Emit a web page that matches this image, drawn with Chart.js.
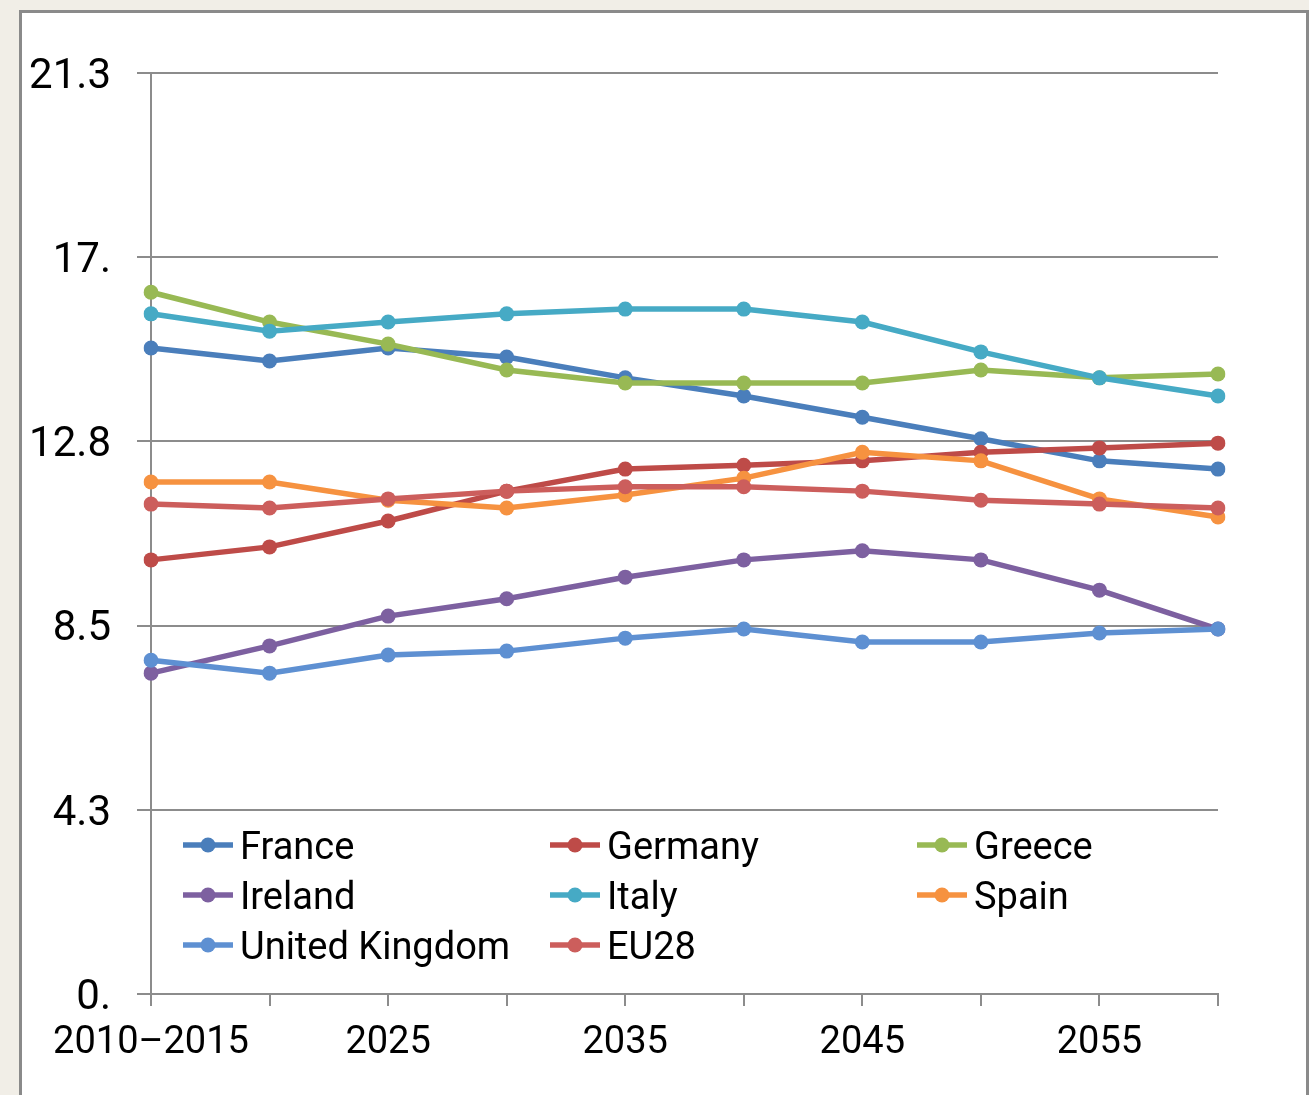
<!DOCTYPE html>
<html>
<head>
<meta charset="utf-8">
<script src="https://cdn.jsdelivr.net/npm/chart.js@4.4.1/dist/chart.umd.min.js"></script>
<style>
  html, body { margin: 0; padding: 0; }
  body {
    width: 1309px; height: 1095px; overflow: hidden; position: relative;
    background: #f1eee7;
  }
  #frame {
    position: absolute; left: 19px; top: 10px; width: 1284px; height: 1100px;
    background: #fff; border: 3px solid #8a8a8a;
  }
  #wrap { position: absolute; left: 0; top: 0; width: 1309px; height: 1095px; }
</style>
</head>
<body>
<div id="frame"></div>
<div id="wrap"><canvas id="my-chart"></canvas></div>
<script>
const years = ["2010–2015", "2020", "2025", "2030", "2035", "2040", "2045", "2050", "2055", "2060"];

const france  = [14.94, 14.64, 14.94, 14.73, 14.25, 13.83, 13.34, 12.84, 12.33, 12.14];
const germany = [10.04, 10.34, 10.94, 11.63, 12.14, 12.23, 12.33, 12.53, 12.63, 12.74];
const greece  = [16.23, 15.54, 15.03, 14.43, 14.13, 14.13, 14.13, 14.43, 14.25, 14.34];
const ireland = [7.42, 8.05, 8.74, 9.14, 9.64, 10.04, 10.25, 10.04, 9.34, 8.44];
const italy   = [15.73, 15.33, 15.54, 15.73, 15.84, 15.84, 15.54, 14.85, 14.25, 13.83];
const spain   = [11.84, 11.84, 11.42, 11.24, 11.54, 11.93, 12.53, 12.33, 11.45, 11.03];
const uk      = [7.72, 7.42, 7.84, 7.93, 8.23, 8.44, 8.14, 8.14, 8.35, 8.44];
const eu28    = [11.33, 11.24, 11.45, 11.63, 11.73, 11.73, 11.63, 11.42, 11.33, 11.24];

const yTickValues = [0, 4.26, 8.52, 12.78, 17.04, 21.3];
const yTickLabels = ["0.", "4.3", "8.5", "12.8", "17.", "21.3"];

const seriesNames = ["France", "Germany", "Greece", "Ireland", "Italy", "Spain", "United Kingdom", "EU28"];
const seriesData = [france, germany, greece, ireland, italy, spain, uk, eu28];
const seriesColors = ["#4a7ebb", "#be4b48", "#98b954", "#7d60a0", "#46aac5", "#f69240", "#5e90d2", "#cc5e5c"];

const FONT = 'Roboto, "Noto Sans", sans-serif';

const datasets = seriesNames.map(function (name, i) {
  return {
    label: name,
    data: seriesData[i],
    borderColor: seriesColors[i],
    backgroundColor: seriesColors[i],
    borderWidth: 5.5,
    pointRadius: 7.5,
    pointHoverRadius: 7.5,
    pointBorderWidth: 0,
    tension: 0,
    order: seriesNames.length - 1 - i, // later series on top, like Excel
  };
});

// legend drawn inside the plot area, 3 columns
const insideLegend = {
  id: "insideLegend",
  afterDraw(chart) {
    const ctx = chart.ctx;
    const area = chart.chartArea;
    const colX = [area.left + 32, area.left + 399, area.left + 766];
    const rowY = [845, 895, 945];
    ctx.save();
    ctx.font = "38px " + FONT;
    ctx.textBaseline = "middle";
    ctx.textAlign = "left";
    seriesNames.forEach(function (name, i) {
      const x = colX[i % 3];
      const y = rowY[Math.floor(i / 3)];
      ctx.strokeStyle = seriesColors[i];
      ctx.lineWidth = 5.5;
      ctx.beginPath();
      ctx.moveTo(x, y);
      ctx.lineTo(x + 50, y);
      ctx.stroke();
      ctx.fillStyle = seriesColors[i];
      ctx.beginPath();
      ctx.arc(x + 25, y, 7.5, 0, Math.PI * 2);
      ctx.fill();
      ctx.fillStyle = "#000";
      ctx.fillText(name, x + 57, y + 4);
    });
    ctx.restore();
  },
};

const ctx = document.getElementById("my-chart").getContext("2d");
const chart = new Chart(ctx, {
  type: "line",
  data: { labels: years, datasets: datasets },
  options: {
    responsive: true,
    maintainAspectRatio: false,
    animation: false,
    layout: { padding: { left: 0, right: 91, top: 73, bottom: 0 } },
    plugins: {
      legend: { display: false },
      tooltip: { enabled: false },
    },
    scales: {
      x: {
        offset: false,
        grid: {
          drawOnChartArea: false,
          drawTicks: true,
          tickLength: 12,
          color: "#8c8c8c",
          lineWidth: 2,
        },
        border: { color: "#8c8c8c", width: 2 },
        ticks: {
          autoSkip: false,
          maxRotation: 0,
          padding: 15,
          color: "#000",
          font: { family: FONT, size: 38 },
          callback: function (value, index) {
            return index % 2 === 0 ? years[index] : "";
          },
        },
        afterFit: function (scale) { scale.height = 1095 - 994; },
      },
      y: {
        min: 0,
        max: 21.3,
        afterBuildTicks: function (scale) {
          scale.ticks = yTickValues.map(function (v) { return { value: v }; });
        },
        grid: {
          color: "#8c8c8c",
          lineWidth: 2,
          tickLength: 14,
        },
        border: { color: "#8c8c8c", width: 2 },
        ticks: {
          padding: 26,
          color: "#000",
          font: { family: FONT, size: 42, lineHeight: 0.2 },
          // empty first line nudges the label a few px down, as in the original
          callback: function (value, index) { return ["", yTickLabels[index]]; },
        },
        afterFit: function (scale) { scale.width = 151; },
      },
    },
  },
  plugins: [insideLegend],
});
</script>
</body>
</html>
